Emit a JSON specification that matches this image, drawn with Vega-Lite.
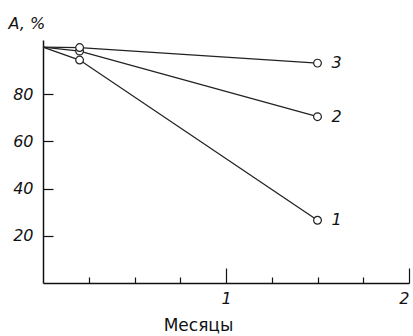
{
  "$schema": "https://vega.github.io/schema/vega-lite/v6.json",
  "autosize": "none",
  "width": 366,
  "height": 243,
  "padding": {"left": 43, "top": 40, "right": 4, "bottom": 53},
  "config": {"view": {"stroke": null}, "font": "DejaVu Sans"},
  "data": {"values": [
    {"m": 0, "a": 100, "s": "1"},
    {"m": 0.2, "a": 94.5, "s": "1"},
    {"m": 1.5, "a": 26.6, "s": "1"},
    {"m": 0, "a": 100, "s": "2"},
    {"m": 0.2, "a": 98.3, "s": "2"},
    {"m": 1.5, "a": 70.5, "s": "2"},
    {"m": 0, "a": 100, "s": "3"},
    {"m": 0.2, "a": 99.8, "s": "3"},
    {"m": 1.5, "a": 93.2, "s": "3"}
  ]},
  "encoding": {
    "x": {"field": "m", "type": "quantitative", "scale": {"domain": [0, 2], "nice": false, "zero": false}},
    "y": {"field": "a", "type": "quantitative", "scale": {"domain": [0, 103], "nice": false},
      "axis": {"values": [20, 40, 60, 80], "tickSize": -10, "labelPadding": 20, "grid": false,
        "domainColor": "#111", "domainWidth": 1.5, "tickColor": "#111", "tickWidth": 1.2,
        "labelFont": "DejaVu Sans", "labelFontStyle": "italic", "labelFontSize": 16, "labelColor": "#111",
        "title": "A, %", "titleAngle": 0, "titleX": -35, "titleY": -17, "titleAlign": "left", "titleBaseline": "middle",
        "titleFont": "DejaVu Sans", "titleFontWeight": "normal", "titleFontStyle": "italic", "titleFontSize": 16, "titleColor": "#111"}}
  },
  "layer": [
    {
      "mark": {"type": "line", "color": "#222", "strokeWidth": 1.3},
      "encoding": {
        "detail": {"field": "s"},
        "x": {"field": "m", "type": "quantitative",
          "axis": {"orient": "bottom", "values": [1, 2], "tickSize": -15, "labelPadding": 22, "grid": false,
            "domainColor": "#111", "domainWidth": 1.5, "tickColor": "#111", "tickWidth": 1.2,
            "labelFont": "DejaVu Sans", "labelFontStyle": "italic", "labelFontSize": 16, "labelColor": "#111",
            "title": "Месяцы", "titleX": 155, "titleY": 42, "titleBaseline": "middle",
            "titleFont": "DejaVu Sans", "titleFontWeight": "normal", "titleFontSize": 17, "titleColor": "#111"}}
      }
    },
    {
      "transform": [{"filter": "datum.m > 0"}],
      "mark": {"type": "point", "shape": "circle", "filled": true, "fill": "white", "stroke": "#222", "strokeWidth": 1.2, "size": 60, "opacity": 1},
      "encoding": {
        "x": {"field": "m", "type": "quantitative",
          "axis": {"orient": "bottom", "values": [0.25, 0.5, 0.75, 1.25, 1.5, 1.75], "tickSize": -6, "labels": false, "domain": false, "grid": false,
            "tickColor": "#111", "tickWidth": 1.2, "title": null}}
      }
    },
    {
      "transform": [{"filter": "datum.m == 1.5"}],
      "mark": {"type": "text", "dx": 14, "align": "left", "baseline": "middle", "font": "DejaVu Sans", "fontStyle": "italic", "fontSize": 16, "color": "#111"},
      "encoding": {
        "x": {"field": "m", "type": "quantitative", "axis": null},
        "text": {"field": "s"}
      }
    }
  ],
  "resolve": {"axis": {"x": "independent"}}
}
